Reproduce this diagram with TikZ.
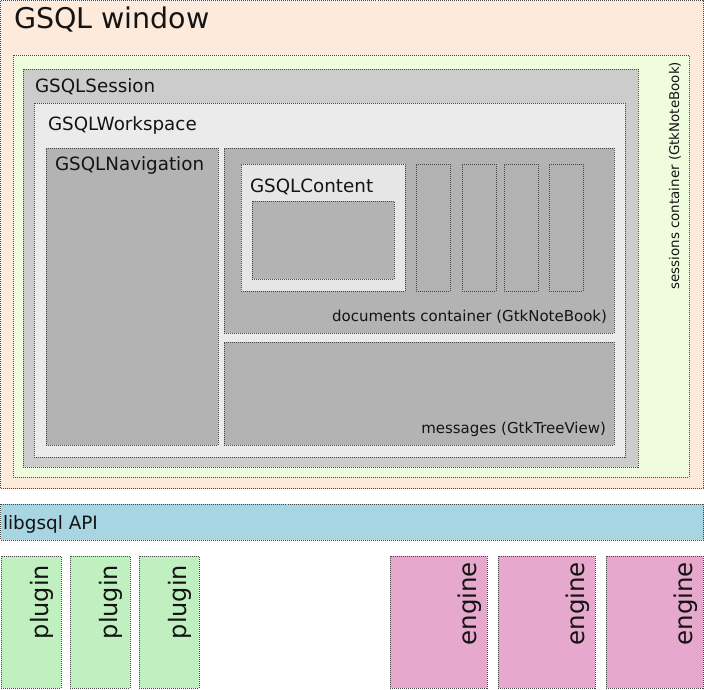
\documentclass[tikz,border=0pt]{standalone}
\usepackage{fontspec}
\setmainfont{DejaVu Sans}
\definecolor{winbg}{RGB}{253,234,219}
\definecolor{sessbg}{RGB}{240,252,222}
\definecolor{sessionbg}{RGB}{204,204,204}
\definecolor{wsbg}{RGB}{235,235,235}
\definecolor{darkbg}{RGB}{179,179,179}
\definecolor{contentbg}{RGB}{230,230,230}
\definecolor{apibg}{RGB}{168,213,226}
\definecolor{plugbg}{RGB}{192,240,192}
\definecolor{engbg}{RGB}{230,168,204}
\definecolor{edge}{RGB}{70,70,70}
\newcommand{\fs}[1]{\fontsize{#1}{#1}\selectfont}
\begin{document}
\begin{tikzpicture}[x=1pt,y=-1pt,
  box/.style={draw=edge, line width=0.8pt, dash pattern=on 1pt off 1pt, inner sep=0pt, outer sep=0pt, anchor=north west},
  lbl/.style={inner sep=0pt, outer sep=0pt, text=black!92}]
\useasboundingbox (0,0) rectangle (704,689);
% main window
\node[box, fill=winbg, minimum width=703pt, minimum height=488pt] (win) at (0.5,0.5) {};
\node[box, fill=sessbg, minimum width=676pt, minimum height=422pt] (sess) at (13,55) {};
\node[box, fill=sessionbg, minimum width=615pt, minimum height=398pt] (session) at (23,69) {};
\node[box, fill=wsbg, minimum width=591pt, minimum height=354pt] (ws) at (34,103) {};
\node[box, fill=darkbg, minimum width=172pt, minimum height=297pt] (nav) at (46,148) {};
\node[box, fill=darkbg, minimum width=390pt, minimum height=185pt] (docs) at (224,148) {};
\node[box, fill=contentbg, minimum width=164pt, minimum height=127pt] (content) at (241,164) {};
\node[box, fill=darkbg, minimum width=142pt, minimum height=78pt] (inner) at (252,201) {};
\node[box, fill=darkbg, minimum width=34pt, minimum height=127pt] (tab1) at (416,164) {};
\node[box, fill=darkbg, minimum width=34pt, minimum height=127pt] (tab2) at (462,164) {};
\node[box, fill=darkbg, minimum width=34pt, minimum height=127pt] (tab3) at (504,164) {};
\node[box, fill=darkbg, minimum width=34pt, minimum height=127pt] (tab4) at (549,164) {};
\node[box, fill=darkbg, minimum width=390pt, minimum height=103pt] (msg) at (224,342) {};
% labels
\node[lbl, anchor=base west] (twin) at (14,28) {\fs{28.5}GSQL window};
\node[lbl, anchor=base west] (tsession) at (35,92) {\fs{18.3}GSQLSession};
\node[lbl, anchor=base west] (tws) at (48,130) {\fs{18.3}GSQLWorkspace};
\node[lbl, anchor=base west] (tnav) at (55,170) {\fs{18.3}GSQLNavigation};
\node[lbl, anchor=base west] (tcontent) at (250,192) {\fs{18.3}GSQLContent};
\node[lbl, anchor=base east] (tdocs) at (607,321) {\fs{15}documents container (GtkNoteBook)};
\node[lbl, anchor=base east] (tmsg) at (606,433) {\fs{15}messages (GtkTreeView)};
\node[lbl, anchor=south east, rotate=90] (tsess) at (681,62) {\fs{13.4}sessions container (GtkNoteBook)};
% API
\node[box, fill=apibg, minimum width=703pt, minimum height=36pt] (api) at (0.5,504) {};
\node[lbl, anchor=base west] (tapi) at (3,529) {\fs{18.4}libgsql API};
% plugins
\node[box, fill=plugbg, minimum width=60pt, minimum height=132pt] (p1) at (1,556) {};
\node[box, fill=plugbg, minimum width=60pt, minimum height=132pt] (p2) at (70,556) {};
\node[box, fill=plugbg, minimum width=60pt, minimum height=132pt] (p3) at (139,556) {};
\node[lbl, anchor=south east, rotate=90] (tp1) at (53,565) {\fs{24}plugin};
\node[lbl, anchor=south east, rotate=90] (tp2) at (122,565) {\fs{24}plugin};
\node[lbl, anchor=south east, rotate=90] (tp3) at (191,565) {\fs{24}plugin};
% engines
\node[box, fill=engbg, minimum width=97pt, minimum height=132pt] (e1) at (390,556) {};
\node[box, fill=engbg, minimum width=97pt, minimum height=132pt] (e2) at (498,556) {};
\node[box, fill=engbg, minimum width=97pt, minimum height=132pt] (e3) at (606,556) {};
\node[lbl, anchor=south east, rotate=90] (te1) at (482,562) {\fs{24.5}engine};
\node[lbl, anchor=south east, rotate=90] (te2) at (590,562) {\fs{24.5}engine};
\node[lbl, anchor=south east, rotate=90] (te3) at (698,562) {\fs{24.5}engine};
\end{tikzpicture}
\end{document}
